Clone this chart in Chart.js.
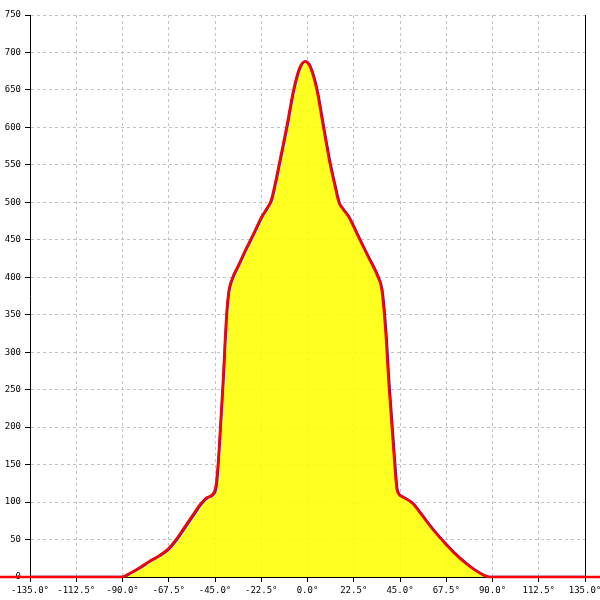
<!DOCTYPE html>
<html>
<head>
<meta charset="utf-8">
<script src="https://cdn.jsdelivr.net/npm/chart.js@4"></script>
<style>
  html, body { margin: 0; padding: 0; background: #fff; }
  canvas { display: block; }
</style>
</head>
<body>
<canvas id="c" width="600" height="600"></canvas>
<script>
// ---- data ----
const blueAngles = [-135, -90, -86, -81.5, -76.5, -72, -67.5, -63.5, -59.5, -55.5, -52, -48.5, -45, -44, -43, -41, -39.3, -38.2, -36.7, -33, -30, -26, -22, -19.5, -17.4, -15.5, -13.4, -9.8, -6.4, -3.5, -1, 1.5, 4.8, 8, 11.3, 13.5, 15.5, 17.5, 20.2, 25, 30, 34.4, 36.4, 38.2, 39.8, 42.6, 43.8, 46.5, 51.5, 55.5, 59.6, 63.5, 67.5, 72, 77.4, 83, 88.8, 135];
const blueValues = [0, 0, 5, 12, 21, 28, 37, 50, 66, 82, 96, 106, 113, 128, 165, 258, 347, 380, 396, 418, 436, 458, 481, 492, 503, 525, 553, 602, 652, 680, 688, 681, 650, 600, 550, 523, 500, 491, 481, 454, 426, 401, 383, 330, 258, 152, 116, 107, 98, 84, 69, 56, 44, 31, 18, 7, 0, 0];

const redAngles = [-180, -90.5, -86.5, -82, -77, -72.5, -68, -64, -60, -56, -52.5, -49, -45.5, -44.3, -43.2, -41.2, -39.5, -38.4, -37, -33.3, -30.3, -26.3, -22.3, -19.8, -17.7, -15.8, -13.7, -10.1, -6.7, -3.8, -1.2, 1.2, 4.5, 7.7, 11, 13.2, 15.2, 17.2, 19.9, 24.7, 29.7, 34.1, 36.1, 37.9, 39.5, 42.3, 43.5, 46.2, 51.2, 55.2, 59.3, 63.2, 67.2, 71.7, 77.1, 82.7, 88.4, 180];
const redValues = [0, 0, 5, 12, 21, 28, 37, 50, 66, 82, 96, 106, 113, 128, 165, 258, 347, 380, 396, 418, 436, 458, 481, 492, 503, 525, 553, 602, 652, 680, 688, 681, 650, 600, 550, 523, 500, 491, 481, 454, 426, 401, 383, 330, 258, 152, 116, 107, 98, 84, 69, 56, 44, 31, 18, 7, 0, 0];

const xTicksMin = -135, xTicksMax = 135, xTickStep = 22.5;
const yTicksMin = 0, yTicksMax = 750, yTickStep = 50;

const bluePts = blueAngles.map((a, i) => ({x: a, y: blueValues[i]}));
const redPts = redAngles.map((a, i) => ({x: a, y: redValues[i]}));

const tickFont = {family: 'DejaVu Sans Mono', size: 9};
const gridCol = '#c2c2c2';

new Chart(document.getElementById('c'), {
  type: 'line',
  data: {
    datasets: [
      {
        label: 'red',
        data: redPts,
        borderColor: '#ff0000',
        borderWidth: 2.5,
        pointRadius: 0,
        fill: false,
        clip: false,
        cubicInterpolationMode: 'monotone',
        order: 0
      },
      {
        label: 'blue',
        data: bluePts,
        borderColor: '#2222cc',
        backgroundColor: 'rgba(255,255,0,0.87)',
        borderWidth: 2.5,
        pointRadius: 0,
        fill: 'origin',
        cubicInterpolationMode: 'monotone',
        order: 1
      }
    ]
  },
  options: {
    responsive: false,
    animation: false,
    devicePixelRatio: 1,
    layout: {padding: {top: 15, right: 15, left: 0, bottom: 0}},
    plugins: {
      legend: {display: false},
      tooltip: {enabled: false}
    },
    scales: {
      x: {
        type: 'linear',
        min: xTicksMin,
        max: xTicksMax,
        ticks: {
          stepSize: xTickStep,
          autoSkip: false,
          maxRotation: 0,
          minRotation: 0,
          padding: 3,
          color: '#000',
          font: tickFont,
          callback: v => v.toFixed(1) + '°'
        },
        grid: {
          color: c => (c.tick && c.tick.value === xTicksMax) ? '#000' : gridCol,
          lineWidth: 1,
          tickColor: '#000',
          tickLength: 5
        },
        border: {
          display: true,
          color: '#000',
          width: 1,
          dash: c => (c.tick && c.tick.value === xTicksMax) ? [] : [3, 3]
        },
        afterFit: s => { s.height = 23; s.paddingLeft = 0; s.paddingRight = 0; }
      },
      y: {
        type: 'linear',
        min: yTicksMin,
        max: yTicksMax,
        ticks: {
          stepSize: yTickStep,
          autoSkip: false,
          padding: 4,
          color: '#000',
          font: tickFont
        },
        grid: {
          color: gridCol,
          lineWidth: 1,
          tickColor: '#000',
          tickLength: 5
        },
        border: {
          display: true,
          color: '#000',
          width: 1,
          dash: [3, 3]
        },
        afterFit: s => { s.width = 30; s.paddingTop = 0; s.paddingBottom = 0; }
      }
    }
  }
});
</script>
</body>
</html>
